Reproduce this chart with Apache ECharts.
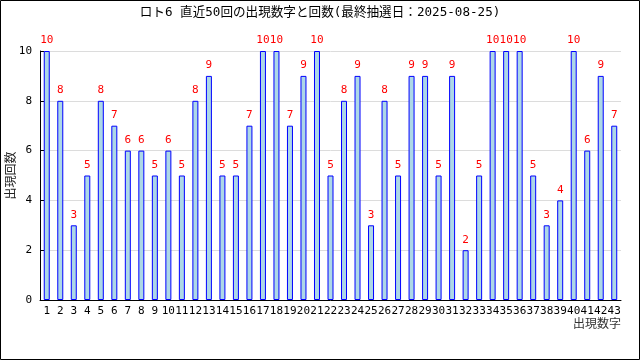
<!DOCTYPE html>
<html><head><meta charset="utf-8">
<script src="https://cdn.jsdelivr.net/npm/echarts@6/dist/echarts.min.js"></script>
<style>html,body{margin:0;padding:0;background:#fff}#c{width:640px;height:360px}</style>
</head><body><div id="c"></div>
<script>
const titleText = 'ロト6 直近50回の出現数字と回数(最終抽選日：2025-08-25)';
const categories = ['1','2','3','4','5','6','7','8','9','10','11','12','13','14','15','16','17','18','19','20','21','22','23','24','25','26','27','28','29','30','31','32','33','34','35','36','37','38','39','40','41','42','43'];
const counts = [10,8,3,5,8,7,6,6,5,6,5,8,9,5,5,7,10,10,7,9,10,5,8,9,3,8,5,9,9,5,9,2,5,10,10,10,5,3,4,10,6,9,7];
const yTicks = [0,2,4,6,8,10];
const yName = '出現回数';
const xName = '出現数字';

const chart = echarts.init(document.getElementById('c'), null, {renderer:'canvas'});
const font = '"DejaVu Sans Mono", "Noto Sans CJK JP", monospace';
chart.setOption({
  animation:false,
  backgroundColor:'#fff',
  title:{text:titleText, left:'center', top:1, textStyle:{fontFamily:font, fontSize:12.6, fontWeight:'normal', color:'#000'}},
  graphic:[{type:'rect', shape:{x:0.5,y:0.5,width:639,height:359}, style:{fill:null, stroke:'#000', lineWidth:1}, silent:true}],
  grid:{left:40, right:19, top:51, bottom:60, outerBoundsMode:'none', containLabel:false},
  xAxis:{type:'category', data:categories,
    name:xName, nameLocation:'end', nameGap:0, nameMoveOverlap:false,
    nameTextStyle:{fontFamily:'"Noto Sans CJK JP", sans-serif', fontSize:12, color:'#333', align:'right', verticalAlign:'top', padding:[17,0,0,0]},
    axisLine:{lineStyle:{color:'#000', width:1}},
    axisTick:{inside:true, length:4, lineStyle:{color:'#000'}},
    axisLabel:{interval:0, color:'#000', fontFamily:font, fontSize:11, margin:6}},
  yAxis:{type:'value', min:yTicks[0], max:yTicks[yTicks.length-1], interval:2,
    name:yName, nameLocation:'middle', nameGap:24, nameRotate:90, nameMoveOverlap:false,
    nameTextStyle:{fontFamily:'"Noto Sans CJK JP", sans-serif', fontSize:12, color:'#222'},
    axisLine:{show:true, lineStyle:{color:'#000'}},
    axisTick:{show:true, inside:true, length:4, lineStyle:{color:'#000'}},
    axisLabel:{color:'#000', fontFamily:font, fontSize:11, margin:8},
    splitLine:{lineStyle:{color:'#dcdcdc'}}},
  series:[{type:'bar', data:counts, barWidth:6,
    itemStyle:{color:'#add8e6', borderColor:'#0000ff', borderWidth:1},
    label:{show:true, position:'top', distance:5, color:'#ff0000', fontFamily:font, fontSize:11}}]
});
</script></body></html>
